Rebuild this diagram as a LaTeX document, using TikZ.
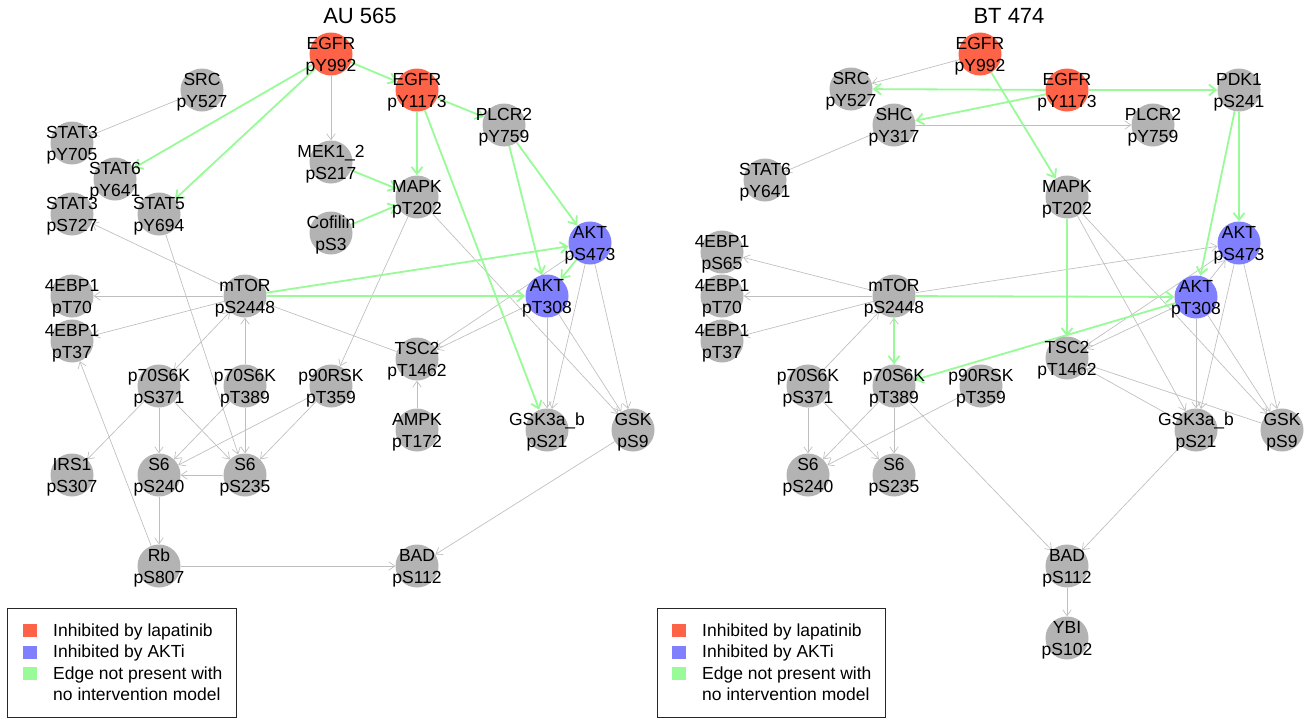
\documentclass[tikz,border=0pt]{standalone}
\usepackage{fontspec}
\setmainfont{Liberation Sans}
\usetikzlibrary{arrows.meta}
\pgfdeclarelayer{bg}
\pgfdeclarelayer{fg}
\pgfsetlayers{bg,main,fg}
\definecolor{nred}{RGB}{255,99,71}
\definecolor{nblue}{RGB}{128,128,255}
\definecolor{ngray}{RGB}{179,179,179}
\definecolor{egray}{RGB}{190,190,190}
\definecolor{egreen}{RGB}{152,251,152}
\tikzset{
  vtx/.style={circle, minimum size=43pt, inner sep=0pt, draw=none, fill=ngray},
  vred/.style={vtx, fill=nred},
  vblue/.style={vtx, fill=nblue},
  vtxt/.style={inner sep=0pt, font=\fontsize{17.5}{22}\selectfont, anchor=base},
  ge/.style={draw=egray, line width=0.65pt, -{Straight Barb[length=6pt,width=8.5pt]}},
  gb/.style={draw=egray, line width=0.65pt, {Straight Barb[length=6pt,width=8.5pt]}-{Straight Barb[length=6pt,width=8.5pt]}},
  gl/.style={draw=egray, line width=0.65pt},
  gr/.style={draw=egreen, line width=1.8pt, -{Straight Barb[length=7pt,width=11pt]}},
  ttl/.style={inner sep=0pt, font=\fontsize{22}{26}\selectfont, anchor=base},
  legtxt/.style={inner sep=0pt, font=\fontsize{17.5}{21.5}\selectfont, anchor=base west},
  legsq/.style={inner sep=0pt, minimum width=14pt, minimum height=13pt, draw=none},
  legbox/.style={draw=black!85, line width=0.8pt, inner sep=0pt, anchor=north west}
}
\newcommand\vx[6]{%
  \node[#4] (#1) at (#2,#3) {};
  \begin{pgfonlayer}{fg}
  \node[vtxt] (#1-a) at (#2,#3-4.2) {#5};
  \node[vtxt] (#1-b) at (#2,#3+17.3) {#6};
  \end{pgfonlayer}}
\begin{document}
\begin{tikzpicture}[x=1pt,y=-1pt]
\useasboundingbox (0,0) rectangle (1306,718);
\begin{pgfonlayer}{bg}
\fill[white] (0,0) rectangle (1306,718);
\end{pgfonlayer}
% ---------------- AU 565 ----------------
\node[ttl] (titleL) at (360,23) {AU 565};
\vx{LegfrA}{331}{54}{vred}{EGFR}{pY992}
\vx{LegfrB}{417}{90}{vred}{EGFR}{pY1173}
\vx{Lsrc}{202}{90}{vtx}{SRC}{pY527}
\vx{Lstat3a}{72}{143}{vtx}{STAT3}{pY705}
\vx{Lstat6}{115}{179}{vtx}{STAT6}{pY641}
\vx{Lstat3b}{72}{214}{vtx}{STAT3}{pS727}
\vx{Lstat5}{159}{214}{vtx}{STAT5}{pY694}
\vx{Lmek}{331}{162}{vtx}{MEK1\_2}{pS217}
\vx{Lmapk}{417}{197}{vtx}{MAPK}{pT202}
\vx{Lplcr}{504}{125}{vtx}{PLCR2}{pY759}
\vx{Lcof}{331}{233}{vtx}{Cofilin}{pS3}
\vx{LaktS}{590}{243}{vblue}{AKT}{pS473}
\vx{LaktT}{547}{296}{vblue}{AKT}{pT308}
\vx{Lmtor}{245}{296}{vtx}{mTOR}{pS2448}
\vx{Lebp70}{72}{296}{vtx}{4EBP1}{pT70}
\vx{Lebp37}{72}{341}{vtx}{4EBP1}{pT37}
\vx{LsixA}{159}{386}{vtx}{p70S6K}{pS371}
\vx{LsixB}{245}{386}{vtx}{p70S6K}{pT389}
\vx{Lrsk}{331}{386}{vtx}{p90RSK}{pT359}
\vx{Ltsc}{417}{359}{vtx}{TSC2}{pT1462}
\vx{Lampk}{417}{430}{vtx}{AMPK}{pT172}
\vx{Lgsk3}{547}{430}{vtx}{GSK3a\_b}{pS21}
\vx{Lgsk}{633}{430}{vtx}{GSK}{pS9}
\vx{Lirs}{72}{475}{vtx}{IRS1}{pS307}
\vx{Ls6a}{159}{475}{vtx}{S6}{pS240}
\vx{Ls6b}{245}{475}{vtx}{S6}{pS235}
\vx{Lrb}{159}{566}{vtx}{Rb}{pS807}
\vx{Lbad}{417}{566}{vtx}{BAD}{pS112}
\begin{pgfonlayer}{bg}
\draw[ge] (LegfrA) -- (Lmek);
\draw[ge] (Lsrc) -- (Lstat3a);
\draw[ge] (Lmtor) -- (Lstat3b);
\draw[ge] (Lmtor) -- (Lebp70);
\draw[ge] (Lmtor) -- (Lebp37);
\draw[gb] (Lmtor) -- (LsixA);
\draw[ge] (LsixB) -- (Lmtor);
\draw[gl] (Lmtor) -- (Ltsc);
\draw[ge] (Lmapk) -- (Lrsk);
\draw[ge] (Lmapk) -- (Lgsk);
\draw[ge] (LaktS) -- (Ltsc);
\draw[ge] (LaktT) -- (Ltsc);
\draw[ge] (LaktS) -- (Lgsk3);
\draw[ge] (LaktS) -- (Lgsk);
\draw[ge] (LaktT) -- (Lgsk3);
\draw[ge] (LaktT) -- (Lgsk);
\draw[ge] (Lampk) -- (Ltsc);
\draw[ge] (Lgsk) -- (Lbad);
\draw[ge] (Lrb) -- (Lbad);
\draw[ge] (Ls6a) -- (Lrb);
\draw[ge] (Ls6b) -- (Ls6a);
\draw[ge] (Lrb) -- (Lebp37);
\draw[ge] (Lstat5) -- (Ls6b);
\draw[ge] (LsixA) -- (Lirs);
\draw[ge] (LsixA) -- (Ls6a);
\draw[ge] (LsixA) -- (Ls6b);
\draw[ge] (LsixB) -- (Ls6a);
\draw[ge] (LsixB) -- (Ls6b);
\draw[ge] (Lrsk) -- (Ls6a);
\draw[ge] (Lrsk) -- (Ls6b);
\draw[gr] (LegfrA) -- (Lstat6);
\draw[gr] (LegfrA) -- (Lstat5);
\draw[gr] (LegfrA) -- (LegfrB);
\draw[gr] (LegfrB) -- (Lplcr);
\draw[gr] (LegfrB) -- (Lmapk);
\draw[gr] (LegfrB) -- (Lgsk3);
\draw[gr] (Lmek) -- (Lmapk);
\draw[gr] (Lcof) -- (Lmapk);
\draw[gr] (Lplcr) -- (LaktS);
\draw[gr] (Lplcr) -- (LaktT);
\draw[gr] (LaktS) -- (LaktT);
\draw[gr] (Lmtor) -- (LaktS);
\draw[gr] (Lmtor) -- (LaktT);
\end{pgfonlayer}
% legend left
\node[legbox, minimum width=229pt, minimum height=109pt] (legL) at (7,608) {};
\node[legsq, fill=nred] (legLr) at (30,630) {};
\node[legsq, fill=nblue] (legLb) at (30,652) {};
\node[legsq, fill=egreen] (legLg) at (30,673) {};
\node[legtxt] (legLrt) at (53,636) {Inhibited by lapatinib};
\node[legtxt] (legLbt) at (53,657.5) {Inhibited by AKTi};
\node[legtxt] (legLgt) at (53,679) {Edge not present with};
\node[legtxt] (legLgu) at (53,700.5) {no intervention model};
% ---------------- BT 474 ----------------
\node[ttl] (titleR) at (1009,23) {BT 474};
\vx{RegfrA}{980}{54}{vred}{EGFR}{pY992}
\vx{RegfrB}{1067}{90}{vred}{EGFR}{pY1173}
\vx{Rpdk}{1239}{90}{vtx}{PDK1}{pS241}
\vx{Rplcr}{1153}{125}{vtx}{PLCR2}{pY759}
\vx{Rmapk}{1067}{197}{vtx}{MAPK}{pT202}
\vx{Rsrc}{851}{89}{vtx}{SRC}{pY527}
\vx{Rshc}{894}{125}{vtx}{SHC}{pY317}
\vx{Rstat6}{765}{180}{vtx}{STAT6}{pY641}
\vx{Rebp65}{722}{252}{vtx}{4EBP1}{pS65}
\vx{Rebp70}{722}{296}{vtx}{4EBP1}{pT70}
\vx{Rebp37}{722}{341}{vtx}{4EBP1}{pT37}
\vx{Rmtor}{894}{296}{vtx}{mTOR}{pS2448}
\vx{RsixA}{808}{386}{vtx}{p70S6K}{pS371}
\vx{RsixB}{894}{386}{vtx}{p70S6K}{pT389}
\vx{Rrsk}{981}{386}{vtx}{p90RSK}{pT359}
\vx{Rtsc}{1067}{358}{vtx}{TSC2}{pT1462}
\vx{RaktS}{1239}{243}{vblue}{AKT}{pS473}
\vx{RaktT}{1196}{297}{vblue}{AKT}{pT308}
\vx{Rgsk3}{1196}{430}{vtx}{GSK3a\_b}{pS21}
\vx{Rgsk}{1282}{430}{vtx}{GSK}{pS9}
\vx{Rs6a}{808}{475}{vtx}{S6}{pS240}
\vx{Rs6b}{894}{475}{vtx}{S6}{pS235}
\vx{Rbad}{1067}{566}{vtx}{BAD}{pS112}
\vx{Rybi}{1067}{638}{vtx}{YBI}{pS102}
\begin{pgfonlayer}{bg}
\draw[ge] (RegfrA) -- (Rsrc);
\draw[ge] (Rshc) -- (Rplcr);
\draw[ge] (Rshc) -- (Rstat6);
\draw[ge] (Rmtor) -- (Rebp65);
\draw[ge] (Rmtor) -- (Rebp70);
\draw[ge] (Rmtor) -- (Rebp37);
\draw[ge] (Rmtor) -- (RaktS);
\draw[ge] (RsixA) -- (Rmtor);
\draw[ge] (RsixB) -- (Rmtor);
\draw[ge] (RsixA) -- (Rs6a);
\draw[ge] (RsixA) -- (Rs6b);
\draw[ge] (RsixB) -- (Rs6a);
\draw[ge] (RsixB) -- (Rs6b);
\draw[ge] (Rrsk) -- (Rs6a);
\draw[ge] (RsixB) -- (Rbad);
\draw[ge] (Rgsk3) -- (Rbad);
\draw[ge] (Rbad) -- (Rybi);
\draw[ge] (Rmapk) -- (Rgsk3);
\draw[ge] (Rmapk) -- (Rgsk);
\draw[ge] (RaktT) -- (Rtsc);
\draw[ge] (RaktS) -- (Rtsc);
\draw[ge] (RaktT) -- (RaktS);
\draw[ge] (RaktT) -- (Rgsk3);
\draw[ge] (RaktT) -- (Rgsk);
\draw[ge] (RaktS) -- (Rgsk3);
\draw[ge] (RaktS) -- (Rgsk);
\draw[ge] (Rgsk3) -- (Rtsc);
\draw[ge] (Rgsk) -- (Rtsc);
\draw[gr] (RegfrB) -- (Rsrc);
\draw[gr] (RegfrB) -- (Rpdk);
\draw[gr] (RegfrB) -- (Rshc);
\draw[gr] (RegfrA) -- (Rmapk);
\draw[gr] (Rpdk) -- (RaktS);
\draw[gr] (Rpdk) -- (RaktT);
\draw[gr] (Rmtor) -- (RsixB);
\draw[gr] (Rmtor) -- (RaktT);
\draw[gr] (RaktT) -- (RsixB);
\draw[gr] (Rmapk) -- (Rtsc);
\end{pgfonlayer}
% legend right
\node[legbox, minimum width=228pt, minimum height=109pt] (legR) at (657,608) {};
\node[legsq, fill=nred] (legRr) at (679,630) {};
\node[legsq, fill=nblue] (legRb) at (679,652) {};
\node[legsq, fill=egreen] (legRg) at (679,673) {};
\node[legtxt] (legRrt) at (702,636) {Inhibited by lapatinib};
\node[legtxt] (legRbt) at (702,657.5) {Inhibited by AKTi};
\node[legtxt] (legRgt) at (702,679) {Edge not present with};
\node[legtxt] (legRgu) at (702,700.5) {no intervention model};
\end{tikzpicture}
\end{document}
